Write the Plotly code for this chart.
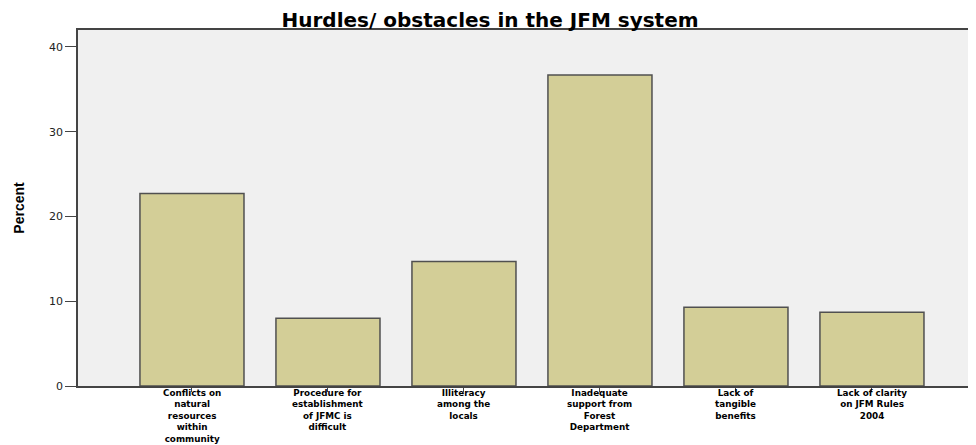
import plotly.graph_objects as go

categories = [
    "Conflicts on\nnatural\nresources\nwithin\ncommunity",
    "Procedure for\nestablishment\nof JFMC is\ndifficult",
    "Illiteracy\namong the\nlocals",
    "Inadequate\nsupport from\nForest\nDepartment",
    "Lack of\ntangible\nbenefits",
    "Lack of clarity\non JFM Rules\n2004",
]
percent = [22.7, 8.0, 14.7, 36.7, 9.3, 8.7]
y_ticks = [0, 10, 20, 30, 40]

x_idx = list(range(len(categories)))

fig = go.Figure()
fig.add_trace(go.Bar(
    x=x_idx,
    y=percent,
    width=0.765,
    marker=dict(color="#d3ce97", line=dict(color="#505050", width=1.5)),
    hoverinfo="y",
))

# category labels placed at each category position on the x scale
for i, cat in enumerate(categories):
    fig.add_annotation(
        x=i, xref="x", y=0, yref="paper",
        yanchor="top", xanchor="center", align="center",
        yshift=-1, borderpad=0,
        text="<br>".join("<b>" + ln + "</b>" for ln in cat.split("\n")),
        showarrow=False,
        font=dict(family="DejaVu Sans", size=8.8, color="black"),
    )

fig.update_layout(
    width=968,
    height=437,
    margin=dict(l=70, r=0, t=22, b=59, autoexpand=False),
    paper_bgcolor="white",
    plot_bgcolor="#f0f0f0",
    showlegend=False,
    title=dict(
        text="<b>Hurdles/ obstacles in the JFM system</b>",
        x=0.498, xref="container", xanchor="center",
        y=1 - 11.5 / 437, yref="container", yanchor="middle",
        automargin=False,
        font=dict(family="DejaVu Sans", size=20, color="black"),
    ),
    xaxis=dict(
        range=[-0.838, 5.765],
        automargin=False,
        tickmode="array",
        tickvals=x_idx,
        showticklabels=False,
        ticks="outside", ticklen=4, tickcolor="#444", tickwidth=1,
        showline=True, linecolor="#444", linewidth=1.5, mirror=True,
        showgrid=False, zeroline=False,
    ),
    yaxis=dict(
        range=[0, 42],
        automargin=False,
        tickmode="array",
        tickvals=y_ticks,
        ticktext=[str(v) for v in y_ticks],
        tickfont=dict(family="DejaVu Sans", size=11, color="#222"),
        ticks="outside", ticklen=11, tickcolor="#444", tickwidth=1,
        showline=True, linecolor="#444", linewidth=1.5, mirror=True,
        showgrid=False, zeroline=False,
        title=dict(text="<b>Percent</b>", standoff=21,
                   font=dict(family="Liberation Sans", size=14, color="black")),
    ),
)

fig.write_html("out.html")
